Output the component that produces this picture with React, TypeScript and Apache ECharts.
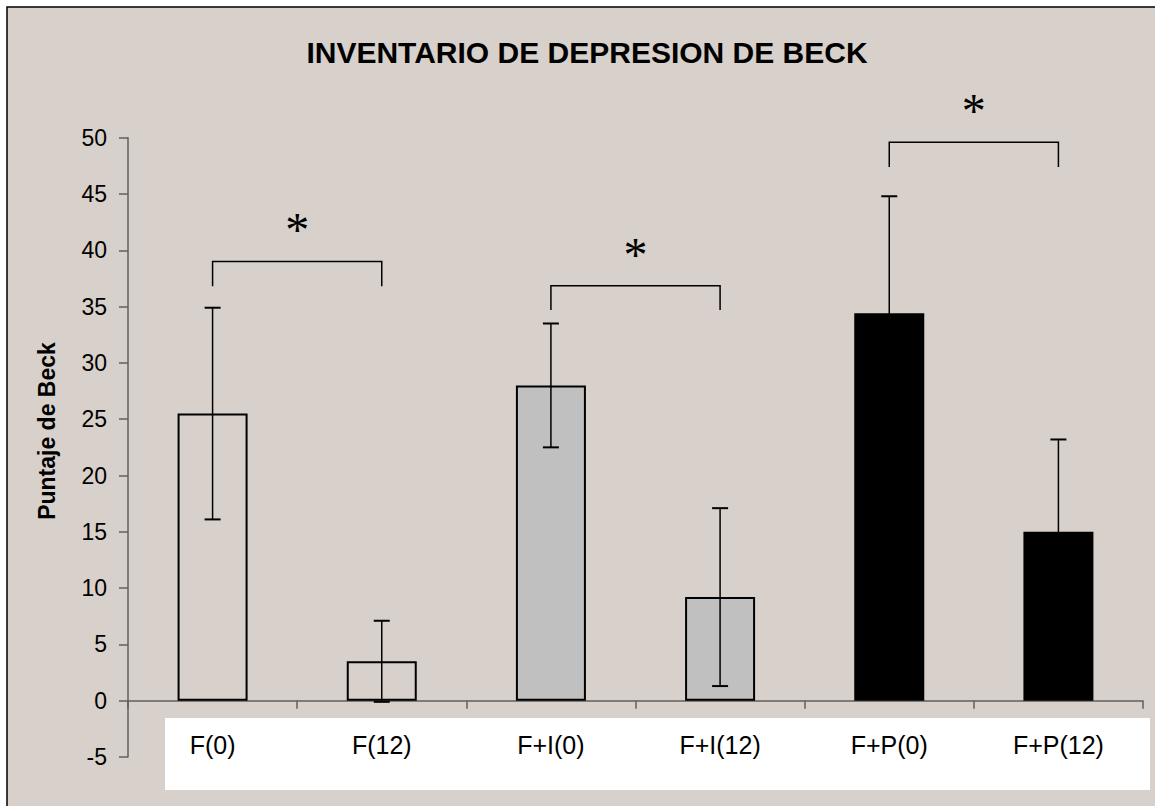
import React, { useEffect, useRef } from "react";
import * as echarts from "echarts";

const categories = ["F(0)", "F(12)", "F+I(0)", "F+I(12)", "F+P(0)", "F+P(12)"];
const means = [25.5, 3.5, 28.0, 9.2, 34.4, 15.0];
const errors = [9.4, 3.6, 5.5, 7.9, 10.4, 8.2];
const fills = ["transparent", "transparent", "#c0c0c0", "#c0c0c0", "#000000", "#000000"];

const bracketFrom = [0, 2, 4];
const bracketTo = [1, 3, 5];
const bracketTop = [39.0, 36.85, 49.6];
const bracketLeg = [36.8, 34.7, 47.4];
const starValue = [42.55, 40.3, 53.1];

const titleText = "INVENTARIO DE DEPRESION DE BECK";
const yName = "Puntaje de Beck";

const FONT = '"Liberation Sans", Arial, sans-serif';

export default function App() {
  const ref = useRef<HTMLDivElement>(null);
  useEffect(() => {
    document.body.style.margin = "0";
    const chart = echarts.init(ref.current!, null, { renderer: "svg" });
    const option: any = {
      animation: false,
      backgroundColor: "#ffffff",
      grid: { left: 128, right: 12, top: 137.7, bottom: 49, containLabel: false },
      graphic: [
        {
          type: "rect",
          z: -100,
          shape: { x: 7, y: 7, width: 1300, height: 900 },
          style: { fill: "#d8d0ca", stroke: "#000", lineWidth: 1.5 },
        },
        {
          type: "rect",
          z: -50,
          shape: { x: 165, y: 718, width: 985, height: 72 },
          style: { fill: "#ffffff" },
        },
        {
          type: "text",
          x: 587,
          y: 52,
          style: {
            text: titleText,
            font: `bold 30px ${FONT}`,
            textAlign: "center",
            textVerticalAlign: "middle",
            fill: "#000",
          },
        },
        {
          type: "text",
          x: 47,
          y: 431,
          rotation: Math.PI / 2,
          style: {
            text: yName,
            font: `bold 23px ${FONT}`,
            textAlign: "center",
            textVerticalAlign: "middle",
            fill: "#000",
          },
        },
      ],
      xAxis: {
        type: "category",
        data: categories,
        boundaryGap: true,
        axisLine: { onZero: true, lineStyle: { color: "#606060", width: 1.5 } },
        axisTick: { show: true, inside: false, length: 8, alignWithLabel: false, lineStyle: { color: "#606060", width: 1.5 } },
        axisLabel: { color: "#000", fontSize: 25, fontFamily: FONT, margin: -25, interval: 0 },
        splitLine: { show: false },
      },
      yAxis: {
        type: "value",
        min: -5,
        max: 50,
        interval: 5,
        axisLine: { show: true, lineStyle: { color: "#606060", width: 1.5 } },
        axisTick: { show: true, inside: false, length: 9, lineStyle: { color: "#606060", width: 1.5 } },
        axisLabel: { color: "#000", fontSize: 23, fontFamily: FONT, margin: 21 },
        splitLine: { show: false },
      },
      series: [
        {
          type: "bar",
          barWidth: 70,
          data: means.map((m, i) => ({
            value: m,
            itemStyle: { color: fills[i], borderColor: "#000", borderWidth: 2 },
          })),
          z: 2,
        },
        {
          type: "custom",
          z: 5,
          encode: { x: 0, y: [1, 2] },
          data: means.map((m, i) => [i, m - errors[i], m + errors[i]]),
          renderItem: (params: any, api: any) => {
            const idx = api.value(0);
            const lo = api.coord([idx, api.value(1)]);
            const hi = api.coord([idx, api.value(2)]);
            const hw = 8;
            const st = { stroke: "#000", lineWidth: 1.5 };
            return {
              type: "group",
              children: [
                { type: "line", shape: { x1: hi[0], y1: hi[1], x2: lo[0], y2: lo[1] }, style: st },
                { type: "line", shape: { x1: hi[0] - hw, y1: hi[1], x2: hi[0] + hw, y2: hi[1] }, style: { stroke: "#000", lineWidth: 2 } },
                { type: "line", shape: { x1: lo[0] - hw, y1: lo[1], x2: lo[0] + hw, y2: lo[1] }, style: { stroke: "#000", lineWidth: 2 } },
              ],
            };
          },
        },
        {
          type: "custom",
          z: 6,
          encode: { x: 0, y: 2 },
          data: bracketFrom.map((f, i) => [f, bracketTo[i], bracketTop[i], bracketLeg[i], starValue[i]]),
          renderItem: (params: any, api: any) => {
            const a = api.coord([api.value(0), api.value(2)]);
            const b = api.coord([api.value(1), api.value(2)]);
            const legY = api.coord([api.value(0), api.value(3)])[1];
            const starY = api.coord([api.value(0), api.value(4)])[1];
            return {
              type: "group",
              children: [
                {
                  type: "polyline",
                  shape: { points: [[a[0], legY], [a[0], a[1]], [b[0], b[1]], [b[0], legY]] },
                  style: { stroke: "#000", lineWidth: 1.5, fill: "none" },
                },
                {
                  type: "text",
                  x: (a[0] + b[0]) / 2,
                  y: starY + 8,
                  style: {
                    text: "*",
                    fontSize: 48,
                    fontFamily: '"Liberation Serif", "Times New Roman", serif',
                    align: "center",
                    verticalAlign: "middle",
                    fill: "#000",
                  },
                },
              ],
            };
          },
        },
      ],
    };
    chart.setOption(option);
    return () => chart.dispose();
  }, []);
  return <div ref={ref} style={{ width: 1155, height: 806 }} />;
}
